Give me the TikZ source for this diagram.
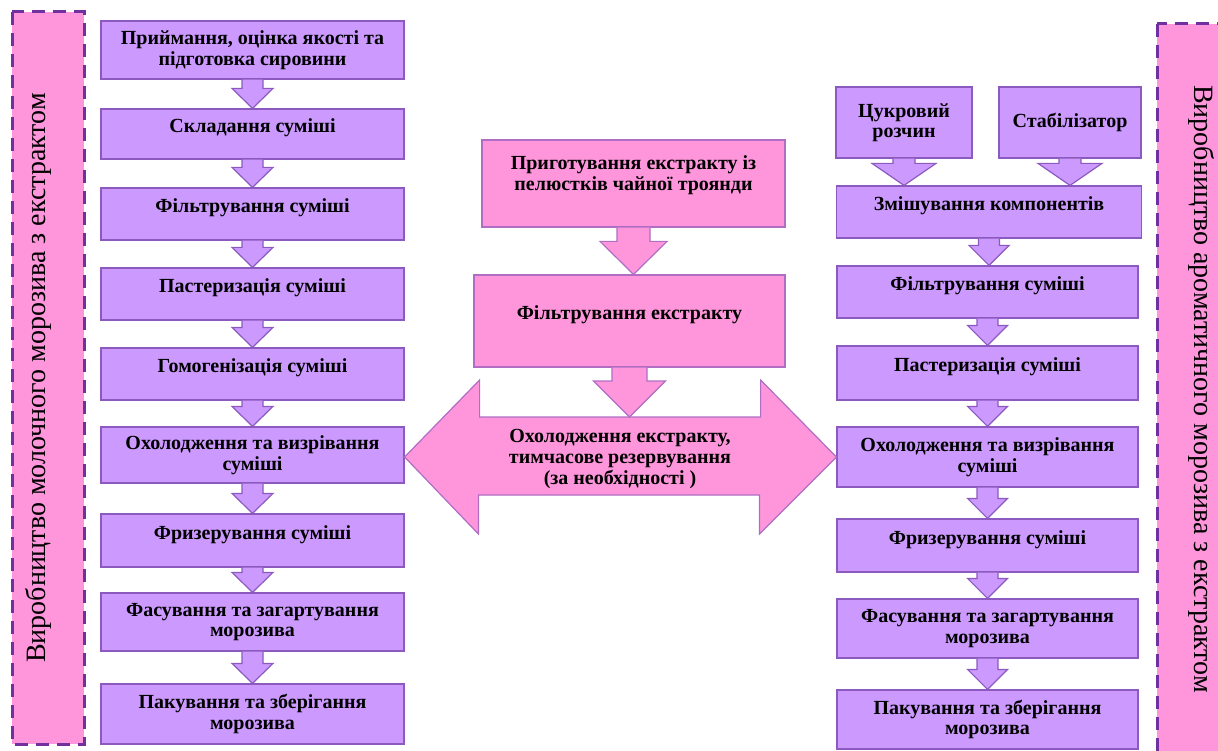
\documentclass[tikz,border=0pt]{standalone}
\usepackage{fontspec}
\setmainfont{Liberation Serif}
\usepackage{xcolor}
\definecolor{boxfill}{RGB}{204,153,255}
\definecolor{boxline}{RGB}{140,90,190}
\definecolor{pinkfill}{RGB}{255,150,220}
\definecolor{pinkline}{RGB}{175,110,195}
\definecolor{dashline}{RGB}{112,48,160}
\usepackage{tikz}
\usetikzlibrary{calc}

\tikzset{
  stepbox/.style={draw=boxline, fill=boxfill, line width=1.2pt, align=center,
    inner sep=0pt, font=\bfseries\fontsize{20}{20.5}\selectfont},
  pinkbox/.style={stepbox, draw=pinkline, fill=pinkfill},
  oneline/.style={text height=13pt, text depth=16pt},
  sidebar/.style={draw=dashline, fill=pinkfill, line width=3pt, dash pattern=on 13pt off 8pt},
  sidetext/.style={font=\fontsize{28}{32}\selectfont},
  arr/.style={draw=boxline, fill=boxfill, line width=1.2pt},
  pinkarr/.style={draw=pinkline, fill=pinkfill, line width=1.2pt},
}

% block arrow: [style]{from}{to}{stem half width}{head half width}{head length}
\newcommand{\blockarr}[6][arr]{%
  \draw[#1] ($(#2)+(-#4,0)$) -- ($(#3)+(-#4,-#6)$) -- ($(#3)+(-#5,-#6)$) -- (#3)
    -- ($(#3)+(#5,-#6)$) -- ($(#3)+(#4,-#6)$) -- ($(#2)+(#4,0)$);}

\begin{document}
\begin{tikzpicture}[x=1pt,y=-1pt]
  \useasboundingbox (0,0) rectangle (1218,751);
  % Side bars
  \draw[sidebar] (12,12) rectangle (84,744);
  \draw[sidebar] (1157,24) rectangle (1235,770);
  \node[sidetext, rotate=90] (lbar) at (38.5,378) {Виробництво молочного морозива з екстрактом};
  \node[sidetext, rotate=-90] (rbar) at (1201.5,389) {Виробництво ароматичного морозива з екстрактом};

  % Left column
  \node[stepbox, minimum width=303, minimum height=58] (s1) at (252.5,50) {Приймання, оцінка якості та\\підготовка сировини};
  \node[stepbox, oneline, minimum width=303, minimum height=50] (s2) at (252.5,134) {Складання суміші};
  \node[stepbox, oneline, minimum width=303, minimum height=52] (s3) at (252.5,214) {Фільтрування суміші};
  \node[stepbox, oneline, minimum width=303, minimum height=52] (s4) at (252.5,294) {Пастеризація суміші};
  \node[stepbox, oneline, minimum width=303, minimum height=52] (s5) at (252.5,374) {Гомогенізація суміші};
  \node[stepbox, minimum width=303, minimum height=56] (s6) at (252.5,455) {Охолодження та визрівання\\суміші};
  \node[stepbox, oneline, minimum width=303, minimum height=53] (s7) at (252.5,540.5) {Фризерування суміші};
  \node[stepbox, minimum width=303, minimum height=58] (s8) at (252.5,622) {Фасування та загартування\\морозива};
  \node[stepbox, minimum width=303, minimum height=60] (s9) at (252.5,714) {Пакування та зберігання\\морозива};
  \foreach \a/\b in {s1/s2,s2/s3,s3/s4,s4/s5,s5/s6,s6/s7,s7/s8,s8/s9}
    \blockarr{\a.south}{\b.north}{10.5}{20.5}{20};

  % Centre column
  \node[pinkbox, minimum width=303, minimum height=87] (c1) at (633.5,183.5) {Приготування екстракту із\\пелюстків чайної троянди\\\mbox{}};
  \node[pinkbox, oneline, minimum width=311, minimum height=92] (c2) at (629.5,321) {Фільтрування екстракту};
  \coordinate (dmid) at (620,457);
  \coordinate (dtop) at (620,417);

  % Right column
  \node[stepbox, minimum width=136, minimum height=71] (ra) at (904,122.5) {Цукровий\\розчин};
  \node[stepbox, minimum width=142, minimum height=71] (rb) at (1070,122.5) {Стабілізатор};
  \node[stepbox, oneline, minimum width=305, minimum height=52] (r1) at (989,212) {Змішування компонентів};
  \node[stepbox, oneline, minimum width=301, minimum height=52] (r2) at (987.5,292) {Фільтрування суміші};
  \node[stepbox, oneline, minimum width=301, minimum height=54] (r3) at (987.5,373) {Пастеризація суміші};
  \node[stepbox, minimum width=301, minimum height=60] (r4) at (987.5,457) {Охолодження та визрівання\\суміші};
  \node[stepbox, oneline, minimum width=301, minimum height=53] (r5) at (987.5,545.5) {Фризерування суміші};
  \node[stepbox, minimum width=301, minimum height=59] (r6) at (987.5,628.5) {Фасування та загартування\\морозива};
  \node[stepbox, minimum width=301, minimum height=59] (r7) at (987.5,719.5) {Пакування та зберігання\\морозива};
  \blockarr{ra.south}{ra.south |- r1.north}{11}{32}{22};
  \blockarr{rb.south}{rb.south |- r1.north}{11}{32}{22};
  \foreach \a/\b in {r1/r2,r2/r3,r3/r4,r4/r5,r5/r6,r6/r7}
    \blockarr{\a.south}{\a.south |- \b.north}{10.5}{20}{20};

  % Double arrow to both columns
  \draw[pinkarr] (s6.east |- dmid) -- ++(75,-77) -- ++(0,37) -- ++(281,0) -- ++(0,-37)
    -- (r4.west |- dmid) -- ++(-77,77) -- ++(0,-39) -- ++(-281,0) -- ++(0,39) -- cycle;
  \node[stepbox, draw=none, fill=none, font=\bfseries\fontsize{20}{21}\selectfont] (dtxt)
    at ($(dmid)+(0,2)$) {Охолодження екстракту,\\тимчасове резервування\\(за необхідності )};
  \blockarr[pinkarr]{c1.south}{c1.south |- c2.north}{16.5}{33.5}{33};
  \blockarr[pinkarr]{c2.south}{c2.south |- dtop}{17.5}{36}{36};
\end{tikzpicture}
\end{document}
